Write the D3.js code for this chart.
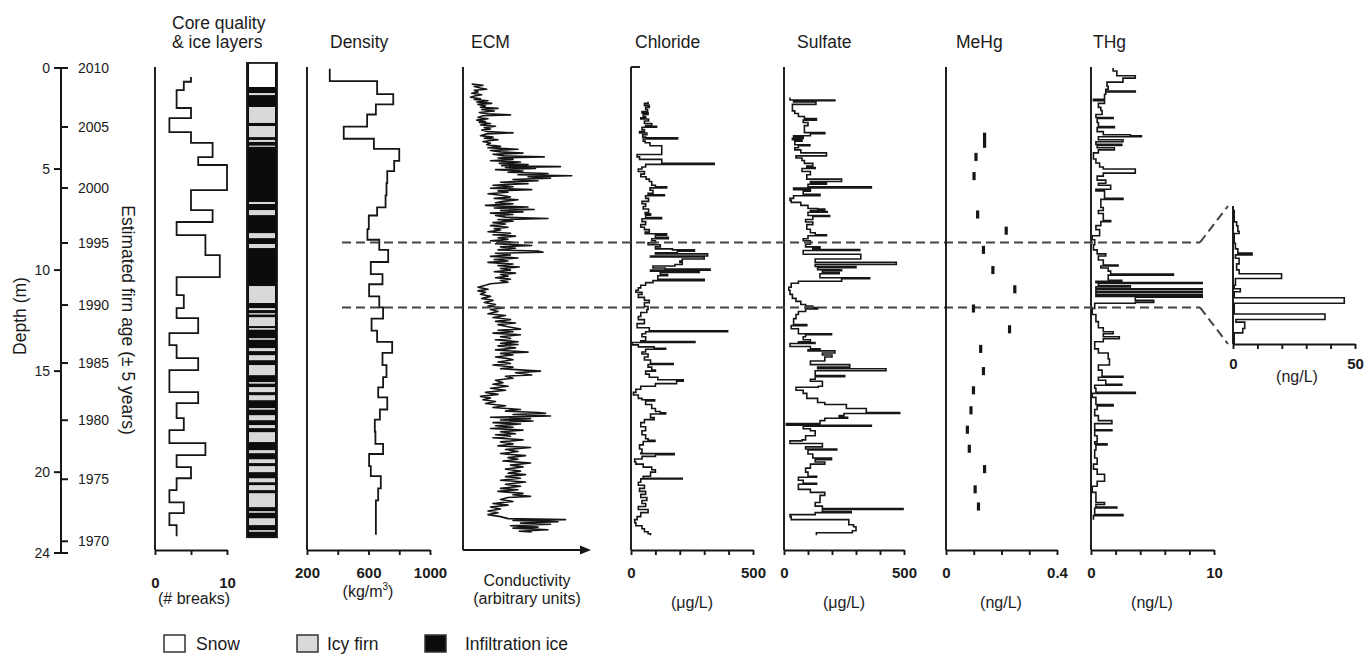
<!DOCTYPE html>
<html>
<head>
<meta charset="utf-8">
<script src="https://cdn.jsdelivr.net/npm/d3@7"></script>
<style>
  body { margin: 0; background: #fff; }
  svg text { font-family: "Liberation Sans", Arial, Helvetica, sans-serif; fill: #1b1b1b; }
</style>
</head>
<body>
<svg id="fig" width="1365" height="654"></svg>
<script>
// ---- depth / age axis
const depthTicks = [0, 5, 10, 15, 20, 24]
const ageYears = [2010, 2005, 2000, 1995, 1990, 1985, 1980, 1975, 1970]
const ageDepths = [0, 2.92, 5.94, 8.66, 11.73, 14.60, 17.43, 20.35, 23.42]

// ---- core quality: [top depth (m), # breaks]; last row closes the profile
const coreBreaks = [[0.45, 5], [0.68, 4], [1.09, 3], [1.98, 5], [2.48, 2], [3.17, 5], [3.71, 8], [4.41, 6],
    [4.80, 10], [6.04, 5], [7.03, 8], [7.62, 3], [8.27, 7], [9.26, 9], [10.35, 3], [11.24, 4], [11.88, 3],
    [12.38, 6], [13.12, 2], [13.71, 3], [14.36, 6], [14.95, 2], [16.04, 6], [16.58, 3], [17.33, 4], [17.92, 2],
    [18.56, 7], [19.16, 3], [19.75, 5], [20.30, 3], [20.89, 2], [21.49, 4], [22.03, 2], [22.62, 3], [23.17, 3]]

// ---- ice layers: bands [top, bottom, type] on top of infiltration ice
const iceColumn = [-0.25, 23.22]
const iceBands = [[-0.25, 0.94, "snow"], [1.24, 1.34, "firn"], [1.93, 2.72, "firn"], [2.87, 3.42, "firn"],
    [3.56, 3.66, "firn"], [3.84, 3.90, "firn"], [6.63, 6.73, "firn"], [7.03, 7.28, "firn"], [8.17, 8.42, "firn"],
    [8.71, 8.91, "firn"], [10.79, 11.63, "firn"], [11.88, 11.98, "firn"], [12.13, 12.20, "firn"],
    [12.33, 12.77, "firn"], [12.87, 12.95, "firn"], [13.37, 13.45, "firn"], [13.86, 14.01, "firn"],
    [14.21, 14.46, "firn"], [14.70, 15.20, "firn"], [15.54, 15.62, "firn"], [15.79, 16.04, "firn"],
    [16.19, 16.44, "firn"], [16.83, 16.91, "firn"], [17.18, 17.43, "firn"], [17.67, 17.82, "firn"],
    [18.02, 18.51, "firn"], [18.91, 19.06, "firn"], [19.36, 19.55, "firn"], [19.70, 20.00, "firn"],
    [20.30, 20.50, "firn"], [20.64, 20.89, "firn"], [21.04, 21.73, "firn"], [21.93, 22.01, "firn"],
    [22.28, 22.62, "firn"], [22.87, 22.95, "firn"]]
const iceTypes = ["snow", "firn", "ice"]
const iceLabels = ["Snow", "Icy firn", "Infiltration ice"]

// ---- density (kg/m3)
const density = [[0.04, 348], [0.65, 656], [1.29, 761], [1.80, 648], [2.30, 591], [2.90, 439], [3.50, 635],
    [4.00, 800], [4.60, 767], [5.10, 722], [5.70, 717], [6.30, 711], [6.90, 656], [7.30, 602], [7.97, 593],
    [8.50, 670], [9.00, 728], [9.60, 615], [10.20, 691], [10.70, 604], [11.30, 670], [11.85, 695], [12.40, 620],
    [13.00, 656], [13.55, 754], [14.10, 691], [14.70, 717], [15.30, 695], [15.80, 663], [16.30, 722],
    [16.90, 674], [17.40, 641], [18.00, 645], [18.60, 695], [19.10, 604], [19.70, 615], [20.20, 680],
    [20.80, 663], [21.40, 648], [22.00, 648], [23.10, 648]]

// ---- ECM conductivity (arbitrary units, 0-100)
const ecm = [[0.80, 7], [0.85, 16], [0.92, 9], [0.99, 14], [1.05, 19], [1.10, 9], [1.18, 12], [1.25, 7], [1.32, 15],
    [1.37, 10], [1.45, 6], [1.52, 14], [1.56, 9], [1.62, 20], [1.68, 11], [1.75, 23], [1.80, 12], [1.88, 18],
    [1.94, 14], [2.00, 28], [2.05, 15], [2.13, 25], [2.20, 13], [2.27, 20], [2.32, 38], [2.36, 16], [2.45, 12],
    [2.51, 20], [2.58, 11], [2.65, 18], [2.69, 13], [2.75, 22], [2.82, 14], [2.88, 26], [2.95, 17], [3.02, 22],
    [3.07, 15], [3.15, 20], [3.21, 40], [3.26, 19], [3.35, 14], [3.42, 24], [3.48, 17], [3.55, 28], [3.64, 16],
    [3.72, 22], [3.80, 19], [3.88, 30], [3.95, 20], [4.02, 44], [4.08, 22], [4.15, 30], [4.21, 48], [4.27, 24],
    [4.35, 33], [4.40, 65], [4.45, 28], [4.52, 40], [4.59, 22], [4.65, 46], [4.72, 29], [4.78, 52], [4.83, 31],
    [4.88, 78], [4.92, 34], [4.97, 58], [5.03, 26], [5.10, 48], [5.16, 36], [5.22, 68], [5.28, 44], [5.33, 87],
    [5.38, 52], [5.45, 70], [5.52, 40], [5.58, 60], [5.65, 30], [5.72, 52], [5.80, 24], [5.88, 40], [5.95, 22],
    [6.02, 55], [6.08, 28], [6.15, 36], [6.22, 20], [6.30, 30], [6.38, 38], [6.45, 25], [6.52, 44], [6.60, 32],
    [6.67, 26], [6.72, 40], [6.80, 18], [6.88, 52], [6.93, 25], [7.00, 57], [7.05, 30], [7.12, 48], [7.18, 22],
    [7.25, 40], [7.30, 26], [7.38, 34], [7.45, 68], [7.50, 28], [7.58, 40], [7.65, 24], [7.72, 34], [7.80, 22],
    [7.88, 36], [7.95, 25], [8.02, 30], [8.10, 20], [8.18, 38], [8.25, 24], [8.32, 42], [8.40, 28], [8.48, 36],
    [8.55, 22], [8.62, 40], [8.70, 26], [8.78, 55], [8.85, 30], [8.92, 42], [9.00, 28], [9.06, 60], [9.12, 64],
    [9.17, 26], [9.25, 38], [9.32, 22], [9.40, 44], [9.48, 25], [9.55, 36], [9.62, 20], [9.70, 40], [9.78, 28],
    [9.85, 45], [9.92, 30], [10.00, 38], [10.08, 25], [10.15, 42], [10.22, 30], [10.30, 36], [10.38, 26],
    [10.45, 38], [10.52, 30], [10.60, 36], [10.68, 22], [10.75, 18], [10.85, 12], [10.95, 20], [11.03, 12],
    [11.10, 18], [11.20, 14], [11.30, 22], [11.41, 15], [11.50, 24], [11.60, 17], [11.70, 26], [11.78, 20],
    [11.88, 32], [11.95, 22], [12.05, 28], [12.16, 20], [12.25, 34], [12.35, 24], [12.45, 38], [12.54, 26],
    [12.62, 42], [12.70, 28], [12.80, 36], [12.92, 46], [12.98, 28], [13.05, 40], [13.12, 24], [13.20, 46],
    [13.30, 30], [13.38, 38], [13.45, 26], [13.55, 44], [13.62, 30], [13.68, 44], [13.75, 28], [13.85, 42],
    [13.95, 26], [14.06, 52], [14.12, 30], [14.20, 40], [14.30, 26], [14.38, 36], [14.44, 40], [14.55, 28],
    [14.62, 38], [14.70, 24], [14.80, 40], [14.88, 30], [15.00, 62], [15.08, 42], [15.19, 55], [15.25, 34],
    [15.35, 40], [15.45, 26], [15.57, 32], [15.65, 24], [15.75, 36], [15.85, 22], [15.95, 34], [16.05, 18],
    [16.15, 28], [16.25, 14], [16.33, 22], [16.42, 16], [16.50, 26], [16.60, 18], [16.71, 34], [16.80, 24],
    [16.90, 46], [16.98, 34], [17.05, 60], [17.09, 66], [17.15, 40], [17.22, 70], [17.28, 22], [17.35, 54],
    [17.42, 30], [17.47, 56], [17.55, 24], [17.62, 46], [17.70, 26], [17.78, 40], [17.84, 22], [17.92, 48],
    [18.00, 30], [18.10, 42], [18.15, 26], [18.22, 38], [18.30, 24], [18.40, 48], [18.50, 30], [18.60, 40],
    [18.70, 28], [18.78, 54], [18.88, 34], [18.98, 44], [19.08, 30], [19.18, 50], [19.28, 36], [19.36, 44],
    [19.45, 32], [19.55, 54], [19.65, 38], [19.74, 48], [19.85, 34], [19.95, 46], [20.05, 36], [20.12, 50],
    [20.22, 34], [20.30, 46], [20.40, 30], [20.49, 50], [20.60, 34], [20.70, 46], [20.80, 30], [20.87, 44],
    [20.95, 28], [21.05, 48], [21.12, 40], [21.20, 54], [21.25, 36], [21.35, 30], [21.45, 40], [21.55, 24],
    [21.63, 36], [21.72, 22], [21.82, 30], [21.92, 20], [22.01, 28], [22.10, 20], [22.20, 30], [22.30, 36],
    [22.35, 82], [22.39, 40], [22.45, 76], [22.52, 46], [22.58, 70], [22.65, 38], [22.72, 60], [22.77, 40],
    [22.85, 68], [22.92, 45], [22.96, 55]]

// ---- chloride (ug/L), [top depth, value]
const chloride = [[1.67, 70], [1.75, 55], [1.85, 75], [1.95, 60], [2.05, 68], [2.15, 45], [2.22, 70], [2.30, 50],
    [2.40, 60], [2.47, 40], [2.52, 72], [2.62, 55], [2.75, 85], [2.85, 60], [2.88, 105], [2.93, 45], [3.05, 55],
    [3.15, 35], [3.22, 65], [3.30, 48], [3.42, 60], [3.46, 191], [3.51, 50], [3.62, 58], [3.70, 78], [3.85, 126],
    [4.28, 25], [4.40, 35], [4.52, 126], [4.72, 341], [4.77, 60], [4.90, 45], [5.00, 30], [5.12, 55], [5.25, 40],
    [5.38, 62], [5.50, 75], [5.62, 85], [5.80, 100], [5.88, 146], [5.93, 78], [6.05, 90], [6.20, 70], [6.27, 137],
    [6.32, 60], [6.45, 72], [6.60, 45], [6.72, 60], [6.85, 50], [6.98, 72], [7.15, 58], [7.22, 80], [7.28, 60],
    [7.40, 125], [7.46, 45], [7.60, 60], [7.75, 40], [7.88, 55], [8.00, 75], [8.12, 58], [8.20, 146], [8.27, 100],
    [8.38, 153], [8.45, 85], [8.55, 100], [8.65, 70], [8.75, 120], [8.85, 100], [8.95, 170], [9.00, 260],
    [9.06, 190], [9.15, 100], [9.20, 314], [9.30, 80], [9.35, 300], [9.45, 210], [9.55, 200], [9.62, 210],
    [9.72, 180], [9.80, 90], [9.90, 140], [9.95, 324], [10.00, 80], [10.06, 280], [10.12, 120], [10.22, 150],
    [10.28, 110], [10.45, 300], [10.52, 90], [10.62, 60], [10.75, 40], [10.88, 30], [11.00, 20], [11.10, 45],
    [11.20, 30], [11.35, 55], [11.50, 75], [11.62, 55], [11.80, 70], [11.95, 65], [12.10, 40], [12.30, 30],
    [12.45, 55], [12.65, 25], [12.85, 75], [13.00, 396], [13.05, 60], [13.15, 45], [13.30, 60], [13.50, 40],
    [13.54, 262], [13.58, 5], [13.70, 30], [13.80, 95], [13.87, 142], [13.92, 60], [14.05, 45], [14.15, 70],
    [14.30, 55], [14.45, 80], [14.62, 173], [14.67, 70], [14.80, 85], [14.95, 100], [15.00, 60], [15.15, 75],
    [15.30, 110], [15.43, 214], [15.50, 187], [15.62, 100], [15.75, 40], [15.90, 20], [16.05, 10], [16.18, 30],
    [16.35, 45], [16.42, 97], [16.48, 60], [16.65, 85], [16.85, 100], [17.00, 120], [17.06, 142], [17.12, 80],
    [17.30, 95], [17.40, 55], [17.55, 40], [17.75, 60], [17.95, 45], [18.15, 60], [18.35, 70], [18.42, 98],
    [18.48, 50], [18.65, 35], [18.85, 45], [19.05, 40], [19.08, 177], [19.14, 100], [19.22, 45], [19.35, 15],
    [19.50, 20], [19.60, 50], [19.75, 85], [19.88, 100], [20.00, 80], [20.20, 50], [20.30, 210], [20.33, 40],
    [20.50, 30], [20.65, 55], [20.80, 35], [20.95, 60], [21.10, 40], [21.25, 65], [21.40, 45], [21.55, 60],
    [21.70, 30], [21.85, 70], [22.00, 40], [22.20, 25], [22.35, 15], [22.50, 20], [22.65, 45], [22.80, 55],
    [22.95, 70], [23.05, 80], [23.12, 80]]

// ---- sulfate (ug/L)
const sulfate = [[1.46, 25], [1.58, 212], [1.62, 40], [1.68, 133], [1.80, 35], [2.12, 45], [2.25, 60], [2.40, 85],
    [2.50, 135], [2.58, 80], [2.70, 100], [2.85, 85], [3.20, 170], [3.25, 110], [3.35, 40], [3.42, 80], [3.48, 35],
    [3.55, 75], [3.62, 45], [3.80, 108], [3.85, 60], [3.95, 45], [4.05, 70], [4.20, 177], [4.35, 50], [4.45, 75],
    [4.58, 85], [4.72, 120], [4.85, 95], [4.93, 130], [4.97, 75], [5.12, 110], [5.28, 95], [5.50, 240],
    [5.62, 110], [5.68, 177], [5.75, 100], [5.88, 364], [5.94, 40], [6.02, 110], [6.10, 80], [6.25, 150],
    [6.32, 40], [6.45, 25], [6.55, 30], [6.65, 70], [6.80, 100], [6.95, 140], [6.98, 170], [7.05, 110],
    [7.10, 180], [7.14, 100], [7.30, 190], [7.35, 120], [7.50, 90], [7.62, 120], [7.75, 95], [7.98, 110],
    [8.15, 130], [8.25, 177], [8.30, 100], [8.45, 80], [8.55, 110], [8.72, 90], [8.85, 150], [8.92, 120],
    [8.98, 316], [9.03, 80], [9.22, 320], [9.45, 130], [9.62, 468], [9.72, 130], [9.82, 300], [9.88, 140],
    [9.98, 240], [10.03, 160], [10.12, 230], [10.18, 150], [10.38, 357], [10.43, 240], [10.55, 60], [10.65, 30],
    [10.85, 20], [11.00, 25], [11.20, 35], [11.40, 50], [11.55, 70], [11.70, 90], [11.78, 120], [11.86, 140],
    [11.92, 90], [12.05, 60], [12.20, 50], [12.40, 40], [12.70, 95], [12.75, 30], [12.90, 60], [13.15, 198],
    [13.20, 90], [13.30, 80], [13.45, 110], [13.55, 60], [13.58, 129], [13.63, 25], [13.78, 110], [13.90, 150],
    [13.95, 100], [14.00, 212], [14.10, 160], [14.20, 200], [14.30, 170], [14.50, 110], [14.68, 274],
    [14.80, 140], [14.88, 425], [14.98, 130], [15.22, 253], [15.27, 130], [15.40, 110], [15.50, 160],
    [15.75, 143], [15.80, 50], [15.95, 80], [16.10, 95], [16.35, 140], [16.55, 170], [16.65, 260], [16.85, 343],
    [17.05, 482], [17.10, 250], [17.20, 230], [17.28, 265], [17.33, 170], [17.45, 150], [17.60, 10],
    [17.68, 364], [17.72, 80], [17.85, 110], [17.95, 130], [18.20, 90], [18.40, 75], [18.45, 25], [18.58, 160],
    [18.75, 90], [18.85, 220], [18.90, 100], [19.10, 120], [19.30, 198], [19.38, 130], [19.50, 170],
    [19.60, 110], [19.80, 90], [20.00, 100], [20.20, 136], [20.25, 60], [20.40, 80], [20.55, 136], [20.60, 60],
    [20.85, 110], [21.00, 170], [21.15, 150], [21.50, 130], [21.68, 160], [21.80, 496], [21.85, 160],
    [21.95, 280], [22.00, 130], [22.10, 25], [22.20, 30], [22.35, 270], [22.60, 290], [22.70, 300],
    [22.90, 285], [23.00, 135], [23.12, 135]]

// ---- MeHg (ng/L): [top, bottom, value]
const mehg = [[3.20, 3.95, 0.139], [4.20, 4.60, 0.108], [5.15, 5.55, 0.101], [7.05, 7.45, 0.114],
    [7.85, 8.25, 0.217], [8.80, 9.20, 0.135], [9.80, 10.20, 0.169], [10.75, 11.15, 0.248], [11.70, 12.10, 0.099],
    [12.73, 13.13, 0.229], [13.70, 14.10, 0.125], [14.80, 15.20, 0.135], [15.75, 16.15, 0.099],
    [16.74, 17.14, 0.090], [17.70, 18.10, 0.077], [18.64, 19.04, 0.084], [19.65, 20.05, 0.139],
    [20.65, 21.05, 0.105], [21.50, 21.90, 0.117]]

// ---- THg (ng/L)
const thg = [[0.00, 1.8], [0.15, 2.1], [0.38, 3.6], [0.50, 2.6], [0.70, 1.3], [0.90, 1.4], [1.05, 1.2], [1.14, 3.6],
    [1.19, 1.2], [1.30, 1.1], [1.55, 0.2], [1.62, 1.1], [1.75, 0.6], [1.95, 0.8], [2.10, 0.9], [2.30, 0.4],
    [2.45, 1.8], [2.50, 0.5], [2.70, 0.6], [2.90, 1.9], [2.95, 0.5], [3.15, 1.0], [3.30, 3.2], [3.36, 4.1],
    [3.40, 0.6], [3.55, 2.6], [3.65, 0.4], [3.78, 2.5], [3.83, 0.5], [3.95, 1.9], [4.05, 0.6], [4.20, 0.2],
    [4.50, 0.4], [4.70, 0.7], [4.90, 1.0], [5.00, 3.6], [5.20, 1.0], [5.35, 0.5], [5.55, 1.2], [5.70, 0.6],
    [5.80, 1.6], [6.00, 0.4], [6.08, 1.1], [6.45, 2.6], [6.50, 0.8], [6.70, 0.8], [6.90, 1.0], [7.05, 0.6],
    [7.20, 1.0], [7.55, 1.6], [7.60, 0.8], [7.80, 0.4], [8.00, 0.7], [8.30, 0.1], [8.50, 0.3], [8.75, 0.2],
    [9.00, 0.5], [9.20, 1.2], [9.30, 0.6], [9.50, 1.0], [9.75, 2.2], [9.80, 0.8], [9.90, 1.4], [10.05, 1.6],
    [10.20, 6.7], [10.25, 1.4], [10.50, 2.5], [10.55, 0.4], [10.62, 20], [10.66, 0.6], [10.78, 3.2], [10.83, 0.4],
    [10.92, 45], [10.96, 0.4], [11.06, 40], [11.10, 0.4], [11.20, 38], [11.24, 0.4], [11.30, 12], [11.34, 3.6],
    [11.50, 5.1], [11.60, 3.6], [11.64, 0.3], [11.90, 0.1], [12.20, 0.4], [12.55, 0.6], [12.85, 1.0],
    [13.05, 1.8], [13.15, 1.0], [13.30, 2.3], [13.40, 1.0], [13.55, 0.3], [13.90, 0.6], [14.10, 1.4],
    [14.40, 1.5], [14.70, 0.6], [14.95, 0.9], [15.25, 2.6], [15.30, 0.6], [15.45, 1.2], [15.65, 2.5],
    [15.70, 0.3], [15.85, 0.4], [16.05, 3.6], [16.10, 0.1], [16.30, 0.4], [16.65, 1.8], [16.72, 0.5],
    [16.90, 0.3], [17.20, 0.6], [17.45, 1.7], [17.60, 0.3], [17.90, 1.7], [17.95, 0.3], [18.20, 0.5],
    [18.50, 0.3], [18.60, 1.3], [18.65, 0.4], [18.90, 0.3], [19.30, 0.5], [19.60, 0.2], [19.85, 0.5],
    [20.10, 1.1], [20.45, 0.5], [20.70, 0.1], [21.00, 0.4], [21.50, 1.1], [21.60, 0.4], [21.72, 2.1],
    [21.77, 0.3], [22.10, 2.6], [22.15, 0.2], [22.30, 0.2], [22.35, 0.2]]

// ---- THg inset (ng/L) for the 1990-1995 window
const zoomWindow = [8.63, 11.85]
const thgInset = [[8.72, 0.5], [9.00, 1.5], [9.09, 2.0], [9.22, 2.5], [9.27, 0.5], [9.50, 1.0], [9.63, 2.0],
    [9.73, 7.8], [9.77, 1.0], [9.85, 2.5], [9.98, 1.5], [10.12, 2.5], [10.21, 19.9], [10.32, 1.0], [10.48, 0.5],
    [10.56, 3.0], [10.63, 0.5], [10.77, 45.6], [10.90, 0.5], [11.15, 37.7], [11.28, 1.2], [11.34, 4.8],
    [11.49, 4.0], [11.59, 0.5], [11.85, 0.5]]

const ink = "#161616"
const iceColor = d3.scaleOrdinal().domain(iceTypes).range(["#ffffff", "#d9d9d9", "#0c0c0c"])

const svg = d3.select("#fig")
const axisY = 550
const axisTopY = 67

const depth = d3.scaleLinear().domain([0, 24]).range([68, 553])

const xCore = d3.scaleLinear().domain([0, 10]).range([155, 227])
const xDens = d3.scaleLinear().domain([200, 1000]).range([307, 430])
const xEcm = d3.scaleLinear().domain([0, 100]).range([463, 588])
const xCl = d3.scaleLinear().domain([0, 500]).range([631, 753])
const xSo = d3.scaleLinear().domain([0, 500]).range([784, 904])
const xMe = d3.scaleLinear().domain([0, 0.4]).range([946, 1057])
const xHg = d3.scaleLinear().domain([0, 10]).range([1091, 1214])
const xIn = d3.scaleLinear().domain([0, 50]).range([1233, 1355])
const yIn = d3.scaleLinear().domain(zoomWindow).range([206, 344])

// staircase profile: value holds from its depth to the next depth
function stepPath(data, x, y) {
    const pts = []
    data.forEach((d, i) => {
        if (i > 0) pts.push([x(data[i - 1][1]), y(d[0])])
        pts.push([x(d[1]), y(d[0])])
    })
    return d3.line()(pts)
}

function bottomAxis(x, ticks, labels, pad) {
    const g = svg.append("g")
        .attr("transform", `translate(0, ${axisY})`)
        .call(d3.axisBottom(x).tickValues(ticks).tickSize(5).tickSizeOuter(0).tickPadding(pad)
            .tickFormat(d => labels.includes(d) ? d : ""))
    g.select(".domain").attr("stroke", ink).attr("stroke-width", 1.9)
    g.selectAll(".tick line").attr("stroke", ink).attr("stroke-width", 1.9)
    g.selectAll(".tick text").attr("font-size", 15).attr("font-weight", "bold")
    return g
}

function vAxis(x0) {
    svg.append("line")
        .attr("x1", x0).attr("x2", x0)
        .attr("y1", axisTopY).attr("y2", axisY)
        .attr("stroke", ink).attr("stroke-width", 1.9)
}

function label(txt, x, y, size, anchor = "start") {
    return svg.append("text").attr("x", x).attr("y", y)
        .attr("font-size", size).attr("text-anchor", anchor).text(txt)
}

// ---- depth / age axis
const ageG = svg.append("g")
ageG.append("line").attr("x1", 61).attr("x2", 61).attr("y1", depth(0)).attr("y2", depth(24))
    .attr("stroke", ink).attr("stroke-width", 2)
ageG.selectAll(".dt").data(depthTicks).join("line")
    .attr("x1", 54).attr("x2", 61).attr("y1", d => depth(d)).attr("y2", d => depth(d))
    .attr("stroke", ink).attr("stroke-width", 2)
ageG.selectAll(".dl").data(depthTicks).join("text")
    .attr("x", 50).attr("y", d => depth(d) + 5).attr("text-anchor", "end").attr("font-size", 14)
    .text(d => d)
ageG.selectAll(".at").data(ageDepths.concat([24])).join("line")
    .attr("x1", 61).attr("x2", 68).attr("y1", d => depth(d)).attr("y2", d => depth(d))
    .attr("stroke", ink).attr("stroke-width", 2)
ageG.selectAll(".al").data(ageYears).join("text")
    .attr("x", 78).attr("y", (d, i) => depth(ageDepths[i]) + 5).attr("font-size", 14)
    .text(d => d)

svg.append("text").attr("transform", "translate(26, 316) rotate(-90)")
    .attr("text-anchor", "middle").attr("font-size", 17.5).text("Depth (m)")
svg.append("text").attr("transform", "translate(122, 320) rotate(90)")
    .attr("text-anchor", "middle").attr("font-size", 17.5).text("Estimated firn age (± 5 years)")

// ---- titles
label("Core quality", 172, 29, 17.5)
label("& ice layers", 172, 48, 17.5)
label("Density", 330, 48, 17.5)
label("ECM", 471, 48, 17.5)
label("Chloride", 635, 48, 17.5)
label("Sulfate", 797, 48, 17.5)
label("MeHg", 956, 48, 17.5)
label("THg", 1093, 48, 17.5)

// ---- core quality panel
vAxis(xCore(0))
bottomAxis(xCore, [0, 5, 10], [0, 10], 22)
svg.append("path").attr("d", stepPath(coreBreaks, xCore, depth))
    .attr("fill", "none").attr("stroke", ink).attr("stroke-width", 1.8)
label("(# breaks)", 194, 604, 16, "middle")

// ice column
svg.append("rect").attr("x", 247).attr("y", depth(iceColumn[0])).attr("width", 30)
    .attr("height", depth(iceColumn[1]) - depth(iceColumn[0])).attr("fill", iceColor("ice"))
svg.selectAll(".band").data(iceBands).join("rect")
    .attr("x", 249).attr("width", 26)
    .attr("y", d => depth(d[0])).attr("height", d => depth(d[1]) - depth(d[0]))
    .attr("fill", d => iceColor(d[2]))
svg.append("rect").attr("x", 247).attr("y", depth(iceColumn[0])).attr("width", 30)
    .attr("height", depth(iceColumn[1]) - depth(iceColumn[0]))
    .attr("fill", "none").attr("stroke", ink).attr("stroke-width", 1.8)

// ---- density
vAxis(xDens(200))
bottomAxis(xDens, [200, 400, 600, 800, 1000], [200, 600, 1000], 12)
svg.append("path").attr("d", stepPath(density, xDens, depth))
    .attr("fill", "none").attr("stroke", ink).attr("stroke-width", 1.8)
const kg = svg.append("text").attr("x", 368).attr("y", 597).attr("font-size", 16).attr("text-anchor", "middle")
kg.append("tspan").text("(kg/m")
kg.append("tspan").attr("font-size", 10).attr("dy", -7).text("3")
kg.append("tspan").attr("dy", 7).text(")")

// ---- ECM
vAxis(xEcm(0))
svg.append("line").attr("x1", xEcm(0)).attr("x2", 582).attr("y1", axisY).attr("y2", axisY)
    .attr("stroke", ink).attr("stroke-width", 1.9)
svg.append("path").attr("d", `M580,${axisY - 4.5}L591,${axisY}L580,${axisY + 4.5}Z`).attr("fill", ink)
svg.append("path")
    .attr("d", d3.line().x(d => xEcm(d[1])).y(d => depth(d[0]))(ecm))
    .attr("fill", "none").attr("stroke", ink).attr("stroke-width", 1.6).attr("stroke-linejoin", "round")
label("Conductivity", 527, 586, 16, "middle")
label("(arbitrary units)", 527, 604, 16, "middle")

// ---- chloride
vAxis(xCl(0))
svg.append("line").attr("x1", xCl(0)).attr("x2", xCl(0) + 9).attr("y1", axisTopY).attr("y2", axisTopY)
    .attr("stroke", ink).attr("stroke-width", 1.9)
bottomAxis(xCl, [0, 100, 200, 300, 400, 500], [0, 500], 12)
svg.append("path").attr("d", stepPath(chloride, xCl, depth))
    .attr("fill", "none").attr("stroke", ink).attr("stroke-width", 1.6)
label("(μg/L)", 692, 608, 16, "middle")

// ---- sulfate
vAxis(xSo(0))
bottomAxis(xSo, [0, 100, 200, 300, 400, 500], [0, 500], 12)
svg.append("path").attr("d", stepPath(sulfate, xSo, depth))
    .attr("fill", "none").attr("stroke", ink).attr("stroke-width", 1.6)
label("(μg/L)", 844, 608, 16, "middle")

// ---- THg main (clipped where the inset takes over)
vAxis(xHg(0))
bottomAxis(xHg, [0, 2, 4, 6, 8, 10], [0, 10], 12)
svg.append("clipPath").attr("id", "hgclip").append("rect")
    .attr("x", xHg(0) - 2).attr("y", 0).attr("width", xHg(9.1) - xHg(0) + 2).attr("height", 654)
svg.append("path").attr("d", stepPath(thg, xHg, depth)).attr("clip-path", "url(#hgclip)")
    .attr("fill", "none").attr("stroke", ink).attr("stroke-width", 1.6)
label("(ng/L)", 1152, 608, 16, "middle")

// ---- inset
const inG = svg.append("g")
inG.append("line").attr("x1", xIn(0)).attr("x2", xIn(0)).attr("y1", yIn.range()[0]).attr("y2", yIn.range()[1])
    .attr("stroke", ink).attr("stroke-width", 1.9)
const inAx = inG.append("g").attr("transform", `translate(0, ${yIn.range()[1]})`)
    .call(d3.axisBottom(xIn).tickValues([0, 10, 20, 30, 40, 50]).tickSize(5).tickSizeOuter(0).tickPadding(9)
        .tickFormat(d => d === 0 || d === 50 ? d : ""))
inAx.select(".domain").attr("stroke", ink).attr("stroke-width", 1.9)
inAx.selectAll(".tick line").attr("stroke", ink).attr("stroke-width", 1.9)
inAx.selectAll(".tick text").attr("font-size", 15).attr("font-weight", "bold")
inG.append("path").attr("d", stepPath(thgInset, xIn, yIn))
    .attr("fill", "none").attr("stroke", ink).attr("stroke-width", 1.6)
label("(ng/L)", 1297, 382, 16, "middle")

// ---- dashed window markers
const dash = svg.append("g").attr("stroke", "#444").attr("stroke-width", 2).attr("stroke-dasharray", "9,5").attr("fill", "none")
zoomWindow.forEach((d, i) => {
    dash.append("line").attr("x1", 342).attr("x2", 1200).attr("y1", depth(d)).attr("y2", depth(d))
    dash.append("line").attr("x1", 1200).attr("x2", xIn(0) - 5)
        .attr("y1", depth(d)).attr("y2", yIn.range()[i])
})

// ---- MeHg
vAxis(xMe(0))
bottomAxis(xMe, [0, 0.1, 0.2, 0.3, 0.4], [0, 0.4], 12)
svg.selectAll(".me").data(mehg).join("rect")
    .attr("x", d => xMe(d[2]) - 1.6).attr("width", 3.2)
    .attr("y", d => depth(d[0])).attr("height", d => depth(d[1]) - depth(d[0]))
    .attr("fill", ink)
label("(ng/L)", 1001, 608, 16, "middle")

// ---- legend
const leg = svg.append("g")
const legX = [164, 297, 425]
const legTextX = [196, 327, 465]
leg.selectAll("rect").data(iceTypes).join("rect")
    .attr("x", (d, i) => legX[i]).attr("y", 635).attr("width", 21).attr("height", 17)
    .attr("fill", d => iceColor(d)).attr("stroke", "#333").attr("stroke-width", 1.5)
leg.selectAll("text").data(iceLabels).join("text")
    .attr("x", (d, i) => legTextX[i]).attr("y", 650).attr("font-size", 17.5)
    .text(d => d)
</script>
</body>
</html>
